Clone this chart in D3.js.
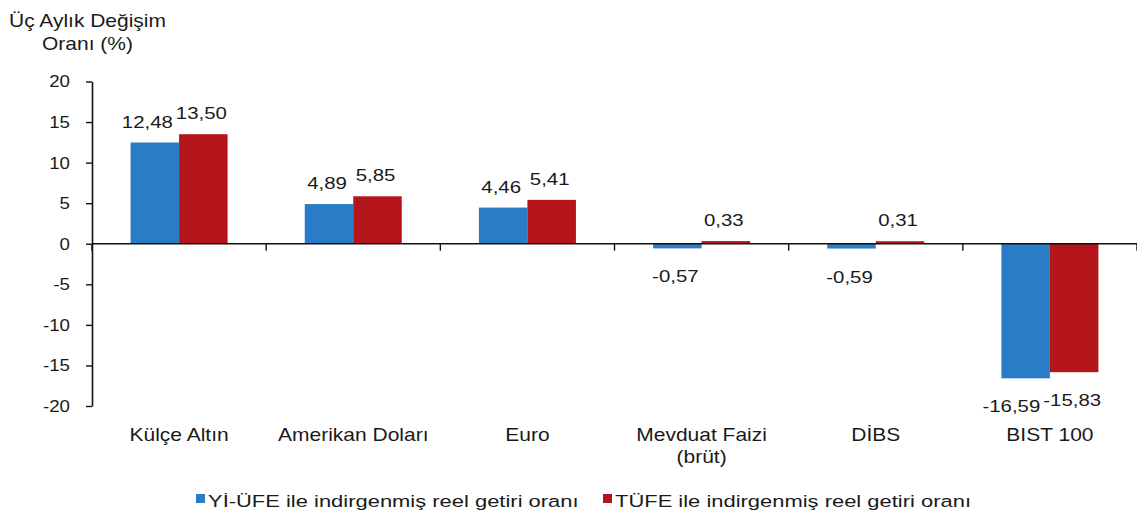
<!DOCTYPE html>
<html>
<head>
    <meta charset="utf-8">
    <title>Üç Aylık Değişim Oranı</title>
    <script src="https://d3js.org/d3.v7.min.js"></script>
    <style>
        body { margin: 0; background: #fff; }
        text { font-family: "Liberation Sans", Arial, sans-serif; fill: #1a1a1a; }
    </style>
</head>
<body>
    <svg id="chart"></svg>

    <script>

        // data
        var categories = ["Külçe Altın", "Amerikan Doları", "Euro", "Mevduat Faizi\n(brüt)", "DİBS", "BIST 100"];
        var seriesNames = ["Yİ-ÜFE ile indirgenmiş reel getiri oranı", "TÜFE ile indirgenmiş reel getiri oranı"];
        var ufeValues = [12.48, 4.89, 4.46, -0.57, -0.59, -16.59];
        var tufeValues = [13.50, 5.85, 5.41, 0.33, 0.31, -15.83];
        var yTicks = [20, 15, 10, 5, 0, -5, -10, -15, -20];
        var titleLines = ["Üç Aylık Değişim", "Oranı (%)"];

        var colors = ["#2a7cc6", "#b3151b"];

        var width = 1137;
        var height = 518;
        var margin = {top: 81.5, right: 0, bottom: 112, left: 92};

        var svg = d3.select("#chart")
                    .attr("width", width)
                    .attr("height", height);

        var data = categories.map(function(c, i) {
            return {cat: c, values: [ufeValues[i], tufeValues[i]]};
        });

        var x0 = d3.scaleBand()
            .domain(categories)
            .range([margin.left, width - margin.right])
            .paddingInner(0.443)
            .paddingOuter(0.2215);

        var x1 = d3.scaleBand()
            .domain([0, 1])
            .range([0, x0.bandwidth()]);

        var y = d3.scaleLinear()
            .domain([-20, 20])
            .range([height - margin.bottom, margin.top]);

        // stretched text helper (the reference text is drawn wide)
        function label(parent, x, y, str, size, sx, anchor) {
            return parent.append("text")
                .attr("transform", "translate(" + x + "," + y + ") scale(" + sx + ",1)")
                .attr("text-anchor", anchor || "middle")
                .style("font-size", size + "px")
                .text(str);
        }

        // title
        titleLines.forEach(function(t, i) {
            label(svg, 87.5, 27 + i * 23, t, 17.5, 1.2);
        });

        // bars
        var groups = svg.append("g").selectAll("g")
            .data(data)
            .enter().append("g")
            .attr("transform", function(d) { return "translate(" + x0(d.cat) + ",0)"; });

        groups.selectAll("rect")
            .data(function(d) { return d.values; })
            .enter().append("rect")
            .attr("x", function(d, i) { return x1(i); })
            .attr("width", x1.bandwidth())
            .attr("y", function(d) { return y(Math.max(0, d)); })
            .attr("height", function(d) { return Math.abs(y(d) - y(0)); })
            .attr("fill", function(d, i) { return colors[i]; });

        // value labels, blue one pushed left when the pair collides
        var labelScale = 1.2;
        groups.each(function(d) {
            var g = d3.select(this);
            var pos = d.values.map(function(v, i) {
                return {
                    v: v,
                    cx: x1(i) + x1.bandwidth() / 2 - 2,
                    ty: v >= 0 ? y(v) - 15 : y(v) + 34
                };
            });
            var texts = pos.map(function(p) {
                return label(g, p.cx, p.ty, p.v.toFixed(2).replace(".", ","), 17, labelScale);
            });
            var w0 = texts[0].node().getComputedTextLength() * labelScale;
            var w1 = texts[1].node().getComputedTextLength() * labelScale;
            var overlap = (pos[0].cx + w0 / 2 + 3) - (pos[1].cx - w1 / 2);
            if (overlap > 0) {
                texts[0].attr("transform", "translate(" + (pos[0].cx - overlap) + "," + pos[0].ty + ") scale(" + labelScale + ",1)");
            }
        });

        // y axis
        var yAxis = d3.axisLeft(y)
            .tickValues(yTicks)
            .tickSize(6)
            .tickSizeOuter(0)
            .tickPadding(14)
            .tickFormat(function(d) { return String(d); });

        var yg = svg.append("g")
            .attr("transform", "translate(" + margin.left + ",0)")
            .call(yAxis);
        yg.select(".domain").attr("stroke", "#111").attr("stroke-width", 1.6);
        yg.selectAll(".tick line").attr("stroke", "#111").attr("stroke-width", 1.4);
        yg.selectAll(".tick text")
            .style("font-size", "17px")
            .style("font-family", "'Liberation Sans', Arial, sans-serif")
            .attr("fill", "#1a1a1a")
            .attr("transform", "scale(1.1,1)");

        // x axis on zero line, ticks between categories
        var xg = svg.append("g").attr("transform", "translate(0," + y(0) + ")");
        xg.append("line")
            .attr("x1", margin.left).attr("x2", width - margin.right)
            .attr("stroke", "#111").attr("stroke-width", 1.6);
        var gap = (x0.step() - x0.bandwidth()) / 2;
        var bounds = categories.map(function(c) { return x0(c) - gap; })
            .concat([x0(categories[categories.length - 1]) + x0.bandwidth() + gap]);
        xg.selectAll(".xtick")
            .data(bounds)
            .enter().append("line")
            .attr("class", "xtick")
            .attr("x1", function(d) { return d; }).attr("x2", function(d) { return d; })
            .attr("y1", 0).attr("y2", 7)
            .attr("stroke", "#111").attr("stroke-width", 1.4);

        // category labels
        categories.forEach(function(c) {
            c.split("\n").forEach(function(line, k) {
                label(svg, x0(c) + x0.bandwidth() / 2, 441 + k * 22, line, 17.5, 1.2);
            });
        });

        // legend
        var legendX = [196, 603];
        seriesNames.forEach(function(s, i) {
            svg.append("rect")
                .attr("x", legendX[i]).attr("y", 494)
                .attr("width", 9).attr("height", 9)
                .attr("fill", colors[i]);
            label(svg, legendX[i] + 12, 507, s, 16.5, 1.33, "start");
        });

    </script>
</body>
</html>
